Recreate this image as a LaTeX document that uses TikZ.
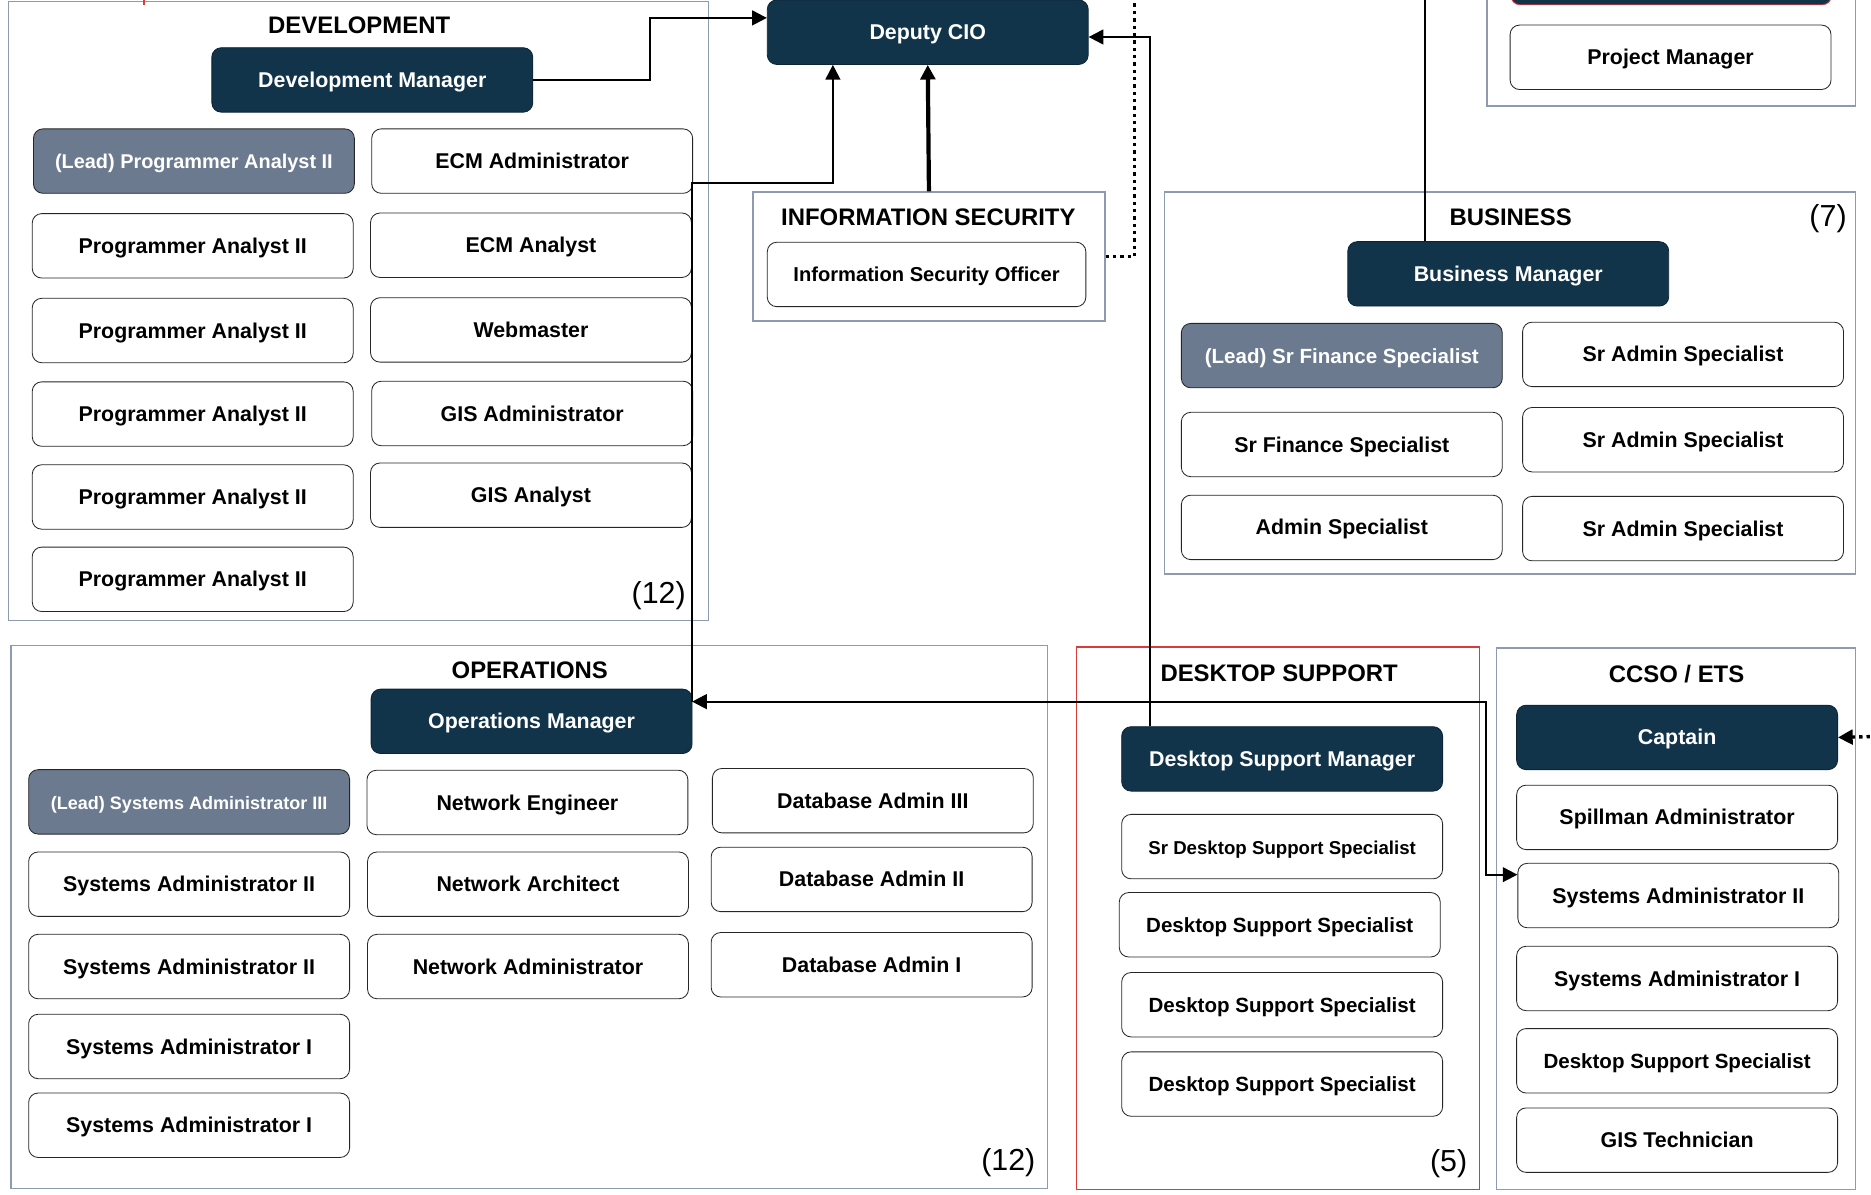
\documentclass[tikz,border=0pt]{standalone}
\usepackage{fontspec}
\setmainfont{Liberation Sans}
\usepackage{tikz}
\usetikzlibrary{arrows.meta}
\definecolor{navy}{HTML}{12344A}
\definecolor{slate}{HTML}{6C7A8F}
\definecolor{frame}{HTML}{8E9AAE}
\definecolor{alertred}{HTML}{D93A3A}
\tikzset{fs/.style={font=\fontsize{#1}{12}\selectfont\bfseries}}
\tikzset{basic/.style={draw=black!85,rounded corners=4.5pt,minimum width=5.38cm,
                       minimum height=1.08cm,inner sep=0pt,text height=7.2pt,
                       text depth=0pt,fs=10.2}}
\tikzset{role/.style={basic,fill=white}}
\tikzset{manager/.style={basic,fill=navy,draw=navy!70!black,text=white}}
\tikzset{lead/.style={basic,fill=slate,text=white}}
\tikzset{group/.style={draw=frame,line width=0.7pt,inner sep=0pt}}

\begin{document}
\begin{tikzpicture}[x=0.02cm,y=-0.02cm]
  \useasboundingbox (0,0) rectangle (1568,1001);
  \clip (0,0) rectangle (1568,1001);

  \tikzstyle{title}=[font=\fontsize{11.4}{13}\selectfont\bfseries];
  \tikzstyle{count}=[font=\fontsize{14.5}{16}\selectfont];
  \tikzstyle{link}=[line width=1pt,-{Triangle[length=7pt,width=7pt]}];
  \tikzstyle{dots}=[line width=1.6pt,dash pattern=on 1.6pt off 1.9pt];

  % section frames
  \node (dev) at (300.5,260.5) [group,minimum width=11.74cm,minimum height=10.38cm]{};
  \node (infosec) at (778.5,215) [group,minimum width=5.9cm,minimum height=2.16cm]{};
  \node (business) at (1265.5,321) [group,minimum width=11.58cm,minimum height=6.4cm]{};
  \node (project) at (1400.5,14.5) [group,minimum width=6.18cm,minimum height=2.98cm]{};
  \node (ops) at (443.5,768.5) [group,minimum width=17.38cm,minimum height=9.1cm]{};
  \node (desktop) at (1071,769.5) [group,draw=alertred,minimum width=6.76cm,minimum height=9.1cm]{};
  \node (ccso) at (1404.5,770) [group,minimum width=6.02cm,minimum height=9.08cm]{};

  \draw[alertred,line width=1pt] (121,-2) -- (121,4);

  % development
  \node (dev_title) at (301,21) [title]{DEVELOPMENT};
  \node (dev_count) at (552,499) [count]{(12)};
  \node (dev_manager) at (312,67) [manager]{Development Manager};
  \node (lead_programmer) at (162.5,135) [lead,fs=9.5]{(Lead) Programmer Analyst II};
  \node (ecm_admin) at (446,135) [role]{ECM Administrator};
  \node (prog_analyst_1) at (161.5,206) [role]{Programmer Analyst II};
  \node (prog_analyst_2) at (161.5,277) [role]{Programmer Analyst II};
  \node (prog_analyst_3) at (161.5,347) [role]{Programmer Analyst II};
  \node (prog_analyst_4) at (161.5,416.5) [role]{Programmer Analyst II};
  \node (prog_analyst_5) at (161.5,485.5) [role]{Programmer Analyst II};
  \node (ecm_analyst) at (445,205.5) [role]{ECM Analyst};
  \node (webmaster) at (445,276.5) [role]{Webmaster};
  \node (gis_admin) at (446,346.5) [role]{GIS Administrator};
  \node (gis_analyst) at (445,415) [role]{GIS Analyst};

  % deputy cio and information security
  \node (deputy_cio) at (777.5,27) [manager]{Deputy CIO};
  \node (infosec_title) at (778,182) [title]{INFORMATION SECURITY};
  \node (security_officer) at (776.5,230) [role,minimum width=5.34cm,fs=9.6]{Information Security Officer};

  % business
  \node (business_title) at (1266,182) [title]{BUSINESS};
  \node (business_count) at (1532,183) [count]{(7)};
  \node (business_manager) at (1264,229.5) [manager]{Business Manager};
  \node (lead_finance) at (1124.5,298) [lead,fs=9.8]{(Lead) Sr Finance Specialist};
  \node (sr_admin_1) at (1410.5,297) [role]{Sr Admin Specialist};
  \node (sr_finance) at (1124.5,372.5) [role]{Sr Finance Specialist};
  \node (sr_admin_2) at (1410.5,368.5) [role]{Sr Admin Specialist};
  \node (admin_spec) at (1124.5,442) [role]{Admin Specialist};
  \node (sr_admin_3) at (1410.5,443) [role]{Sr Admin Specialist};

  % project
  \node (project_head) at (1400.5,-23) [manager,draw=alertred]{};
  \node (project_manager) at (1400,48) [role]{Project Manager};

  % operations
  \node (ops_title) at (444,562) [title]{OPERATIONS};
  \node (ops_count) at (845,974) [count]{(12)};
  \node (ops_manager) at (445.5,604.5) [manager]{Operations Manager};
  \node (lead_sysadmin) at (158.5,672) [lead,fs=8.6]{(Lead) Systems Administrator III};
  \node (net_engineer) at (442,672.5) [role]{Network Engineer};
  \node (db_admin_3) at (731.5,671) [role]{Database Admin III};
  \node (sysadmin_2a) at (158.5,741) [role]{Systems Administrator II};
  \node (net_architect) at (442.5,741) [role]{Network Architect};
  \node (db_admin_2) at (730.5,737) [role]{Database Admin II};
  \node (sysadmin_2b) at (158.5,810) [role]{Systems Administrator II};
  \node (net_admin) at (442.5,810) [role]{Network Administrator};
  \node (db_admin_1) at (730.5,808.5) [role]{Database Admin I};
  \node (sysadmin_1a) at (158.5,877) [role]{Systems Administrator I};
  \node (sysadmin_1b) at (158.5,943) [role]{Systems Administrator I};

  % desktop support
  \node (desktop_title) at (1072,564) [title]{DESKTOP SUPPORT};
  \node (desktop_count) at (1214,975) [count]{(5)};
  \node (desktop_manager) at (1074.5,636) [manager]{Desktop Support Manager};
  \node (sr_desktop) at (1074.5,709.5) [role,fs=8.9]{Sr Desktop Support Specialist};
  \node (desktop_1) at (1072.5,775) [role,fs=9.8]{Desktop Support Specialist};
  \node (desktop_2) at (1074.5,842) [role,fs=9.8]{Desktop Support Specialist};
  \node (desktop_3) at (1074.5,908.5) [role,fs=9.8]{Desktop Support Specialist};

  % ccso / ets
  \node (ccso_title) at (1405,565) [title]{CCSO / ETS};
  \node (captain) at (1405.5,618) [manager]{Captain};
  \node (spillman) at (1405.5,685) [role]{Spillman Administrator};
  \node (ccso_sysadmin_2) at (1406.5,750.5) [role]{Systems Administrator II};
  \node (ccso_sysadmin_1) at (1405.5,820) [role]{Systems Administrator I};
  \node (ccso_desktop) at (1405.5,889) [role,fs=9.8]{Desktop Support Specialist};
  \node (gis_tech) at (1405.5,955.5) [role]{GIS Technician};

  % reporting lines
  \coordinate (dev_bend) at (545,15);
  \coordinate (ops_join) at (580,588);
  \coordinate (ops_bend) at (698,153);
  \coordinate (ccso_bend) at (1245,733);
  \coordinate (desk_bend) at (964,31);
  \coordinate (dots_end) at (951,-8);
  \coordinate (biz_end) at (1194,-8);
  \coordinate (captain_in) at (1580,617);

  \draw[link] (dev_manager.east) -| (dev_bend) -- (dev_bend -| deputy_cio.west);
  \draw[link] (ops_join) |- (ops_bend) -- (ops_bend |- deputy_cio.south);
  \draw[link,{Triangle[length=7pt,width=7pt]}-{Triangle[length=7pt,width=7pt]}] (ops_join) -| (ccso_bend) -- (ccso_bend -| ccso_sysadmin_2.west);
  \draw[link,line width=2pt] (infosec.north) -- (deputy_cio.south);
  \draw[dots] (infosec.east) -| (dots_end);
  \draw[link] (desktop_manager.north -| desk_bend) -- (desk_bend) -- (desk_bend -| deputy_cio.east);
  \draw[line width=1pt] (business_manager.north -| biz_end) -- (biz_end);
  \draw[dots,{Triangle[length=7pt,width=7pt]}-] (captain.east) -- (captain_in);
\end{tikzpicture}
\end{document}
